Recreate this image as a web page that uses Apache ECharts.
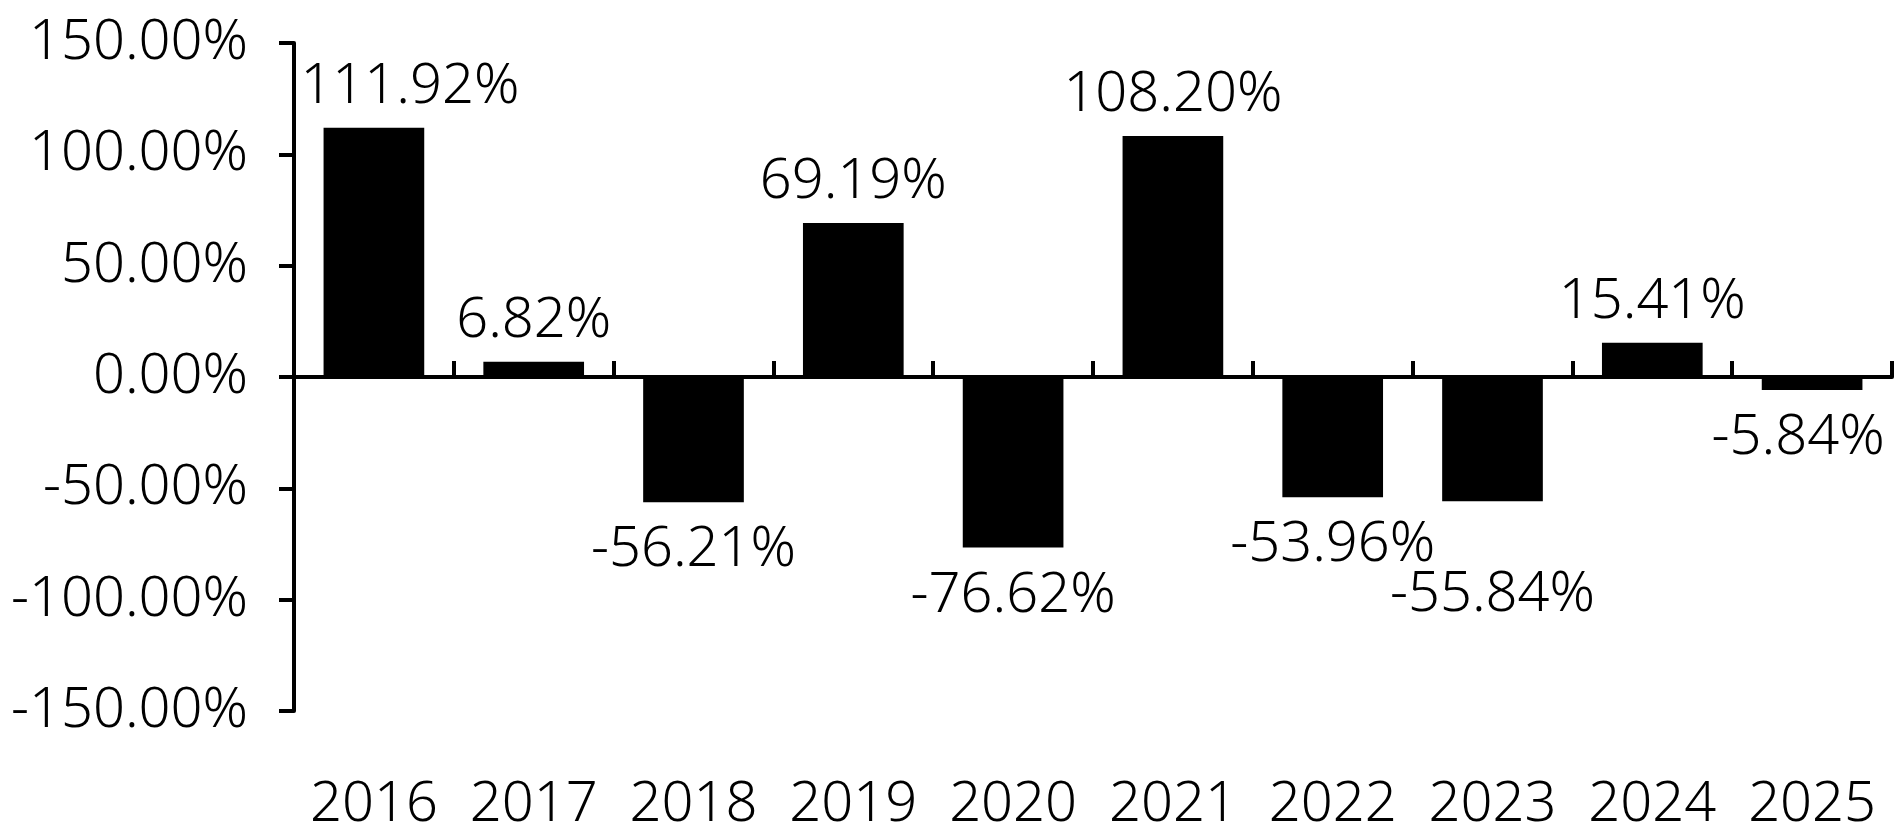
<!DOCTYPE html>
<html>
<head>
<meta charset="utf-8">
<script src="https://cdn.jsdelivr.net/npm/echarts@6/dist/echarts.min.js"></script>
<style>
html,body{margin:0;padding:0;background:#fff;}
#chart{width:1900px;height:833px;}
</style>
</head>
<body>
<div id="chart"></div>
<script>
const years = ['2016','2017','2018','2019','2020','2021','2022','2023','2024','2025'];
const returns = [111.92, 6.82, -56.21, 69.19, -76.62, 108.20, -53.96, -55.84, 15.41, -5.84];
const yTicks = [-150, -100, -50, 0, 50, 100, 150];

const FONT = '"Noto Sans", sans-serif';
const FW = 300;
const FS = 56;
// label nudges (display only)
const labelNudge = {0: [36, 0], 7: [0, 46], 9: [-14, 0]};

const chart = echarts.init(document.getElementById('chart'), null, {renderer: 'canvas'});
chart.setOption({
  animation: false,
  backgroundColor: '#ffffff',
  grid: {left: 294, right: 8, top: 43, bottom: 120, containLabel: false},
  xAxis: [
    {
      type: 'category', data: years, boundaryGap: true,
      axisLine: {show: true, onZero: true, lineStyle: {color: '#000', width: 4}},
      axisTick: {show: true, inside: true, length: 16, interval: 0, lineStyle: {color: '#000', width: 4}},
      axisLabel: {show: false},
      splitLine: {show: false}
    },
    {
      type: 'category', data: years, boundaryGap: true, position: 'bottom',
      axisLine: {show: false, onZero: false},
      axisTick: {show: false},
      axisLabel: {show: true, interval: 0, margin: 66, color: '#000', fontFamily: FONT, fontWeight: FW, fontSize: FS},
      splitLine: {show: false}
    }
  ],
  yAxis: {
    type: 'value', min: yTicks[0], max: yTicks[yTicks.length - 1], interval: 50,
    axisLine: {show: true, onZero: false, lineStyle: {color: '#000', width: 4}},
    axisTick: {show: true, inside: false, length: 15, lineStyle: {color: '#000', width: 4}},
    axisLabel: {
      margin: 46, color: '#000', fontFamily: FONT, fontWeight: FW, fontSize: FS,
      padding: [10, 0, 0, 0],
      formatter: v => v.toFixed(2) + '%'
    },
    splitLine: {show: false}
  },
  series: [{
    type: 'bar',
    xAxisIndex: 0,
    barCategoryGap: '37%',
    itemStyle: {color: '#000'},
    data: returns.map((v, i) => {
      const nudge = labelNudge[i] || [0, 0];
      return {
        value: v,
        label: {
          show: true,
          position: v >= 0 ? 'top' : 'bottom',
          distance: v >= 0 ? 18 : 15,
          offset: [nudge[0], nudge[1] + 5],
          color: '#000', fontFamily: FONT, fontWeight: FW, fontSize: FS,
          formatter: p => p.value.toFixed(2) + '%'
        }
      };
    })
  }]
});
</script>
</body>
</html>
